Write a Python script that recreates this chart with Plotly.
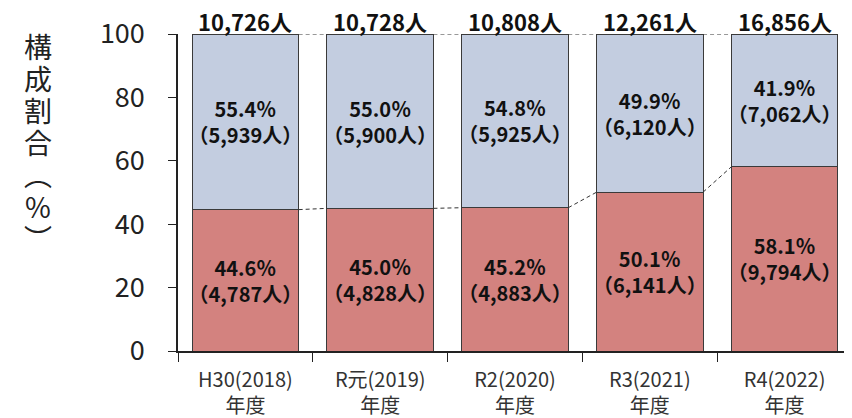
import plotly.graph_objects as go

# data
years = ["H30(2018)<br>年度", "R元(2019)<br>年度", "R2(2020)<br>年度", "R3(2021)<br>年度", "R4(2022)<br>年度"]
red_pct = [44.6, 45.0, 45.2, 50.1, 58.1]
blue_pct = [55.4, 55.0, 54.8, 49.9, 41.9]
red_n = ["4,787", "4,828", "4,883", "6,141", "9,794"]
blue_n = ["5,939", "5,900", "5,925", "6,120", "7,062"]
totals = ["10,726", "10,728", "10,808", "12,261", "16,856"]

FONT = "Noto Sans CJK JP"
RED = "#D3827F"
BLUE = "#C3CDE0"
bar_w = 0.79

fig = go.Figure()

for vals, nums, col in ((red_pct, red_n, RED), (blue_pct, blue_n, BLUE)):
  fig.add_trace(go.Bar(
    x=years, y=vals,
    marker=dict(color=col, line=dict(color="#3a3a3a", width=1)),
    width=bar_w,
    text=[f"<b>{p:.1f}％<br>（{n}人）</b>" for p, n in zip(vals, nums)],
    textposition="inside", insidetextanchor="middle", constraintext="none",
    textangle=0,
    textfont=dict(family=FONT, size=20, color="#111111"),
    hoverinfo="skip",
  ))

# totals above bars
for i, t in enumerate(totals):
  fig.add_annotation(
    x=i, y=red_pct[i] + blue_pct[i], xref="x", yref="y",
    text=f"<b>{t}人</b>", showarrow=False, yanchor="bottom", yshift=-5,
    font=dict(family=FONT, size=22, color="#111111"),
  )

# dashed connector lines between bars
tops = [r + b for r, b in zip(red_pct, blue_pct)]
for i in range(len(years) - 1):
  for vals in (red_pct, tops):
    fig.add_shape(
      type="line", xref="x", yref="y",
      x0=i + bar_w / 2, y0=vals[i], x1=i + 1 - bar_w / 2, y1=vals[i + 1],
      line=dict(color="#333333", width=1, dash="4px,3px"),
    )

# vertical y-axis title, one character per line
for k, ch in enumerate("構成割合︵%︶"):
  fig.add_annotation(
    xref="paper", yref="paper", x=-0.208, y=1.0, xanchor="center", yanchor="middle",
    yshift=-(12 + 32 * k), text=ch, showarrow=False,
    font=dict(family=FONT, size=28, color="#222222"),
  )

# page body has an 8px margin, so the figure is shifted by that amount
fig.update_layout(
  width=844, height=410,
  margin=dict(l=170, r=0, t=26, b=67),
  barmode="stack",
  showlegend=False,
  plot_bgcolor="white",
  paper_bgcolor="white",
  font=dict(family=FONT, color="#222222"),
)
fig.update_xaxes(
  type="category", tickson="boundaries", ticks="outside", ticklen=9,
  tickcolor="#222222", showline=True, linecolor="#222222", linewidth=1.5,
  tickfont=dict(family=FONT, size=20, color="#333333"), ticklabelstandoff=10,
  range=[-0.5, 4.5], showgrid=False,
)
fig.update_yaxes(
  range=[0, 100], tickvals=[0, 20, 40, 60, 80, 100], ticks="outside", ticklen=8,
  tickcolor="#222222", showline=True, linecolor="#222222", linewidth=1.5,
  tickfont=dict(family=FONT, size=27, color="#222222"), ticklabelstandoff=18,
  showgrid=False, zeroline=False,
)

fig.write_html("out.html")
